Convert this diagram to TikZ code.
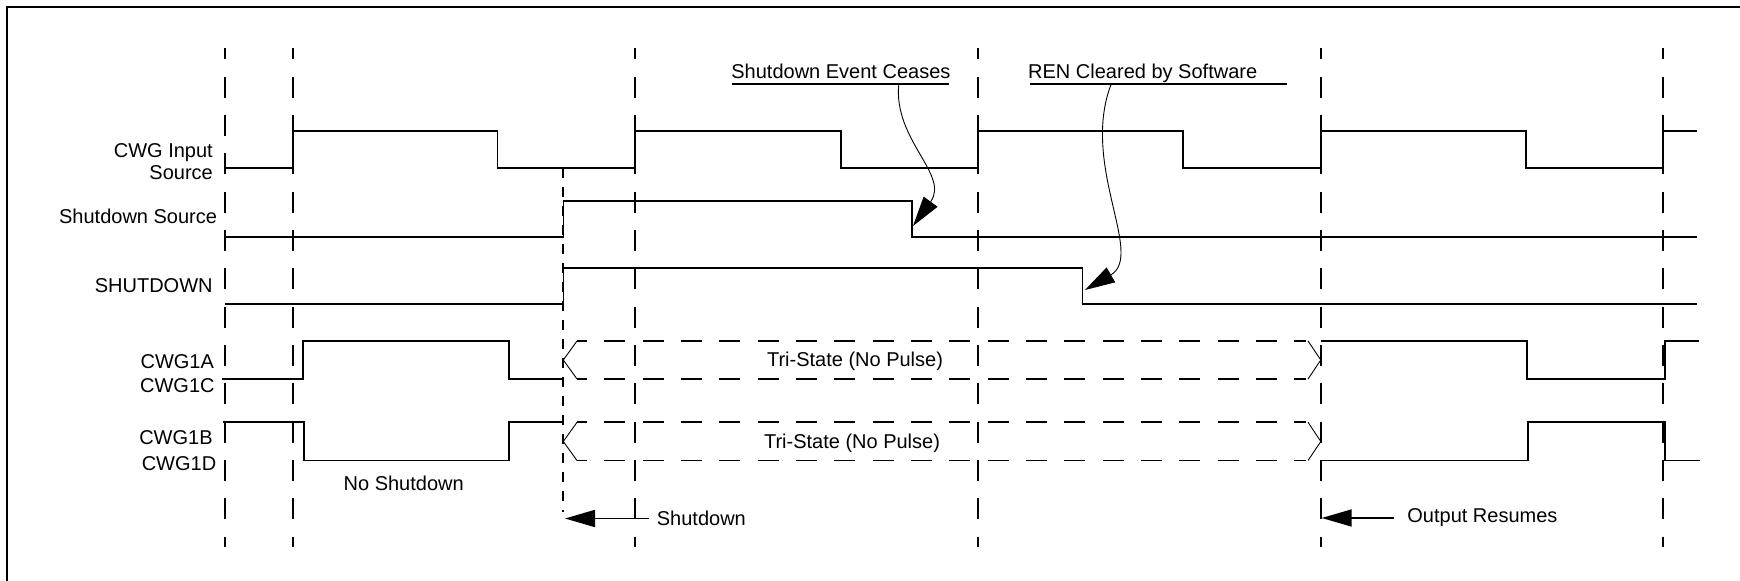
\documentclass[tikz,border=0pt]{standalone}
\usepackage{fontspec}
\setmainfont{Liberation Sans}
\usetikzlibrary{arrows.meta}
\begin{document}
\begin{tikzpicture}[x=0.5pt,y=-0.5pt,
  lbl/.style={inner sep=0pt,font=\fontsize{10pt}{12pt}\selectfont},
  frame/.style={line width=1pt},
  wave/.style={line width=0.9pt,line join=miter},
  grid/.style={line width=0.9pt,dash pattern=on 10.5pt off 8.67pt,dash phase=5pt},
  sgrid/.style={line width=0.9pt,dash pattern=on 5pt off 4.5pt},
  tri/.style={line width=0.9pt,dash pattern=on 10.5pt off 8.67pt,dash phase=5.5pt},
  chev/.style={line width=0.45pt},
  callout/.style={line width=0.45pt,-{Triangle[length=15pt,width=8.5pt]}},
  arr/.style={line width=0.9pt,-{Triangle[length=15pt,width=8.5pt]}},
  uline/.style={line width=0.75pt}]
\useasboundingbox (0,0) rectangle (1740,581);
% frame (only top and left edges visible)
\draw[frame] (6.9,581) -- (6.9,6.7) -- (1740,6.7);
% vertical timing lines
\foreach \x in {224.6,292.8,634.7,978,1320.9,1663}
  \draw[grid] (\x,48.3) -- (\x,546.7);
\draw[sgrid] (563.3,168) -- (563.3,512);
% labels
\node[lbl,anchor=base east] (lin1) at (213.2,157.3) {CWG Input};
\node[lbl,anchor=base east] (lin2) at (213.2,180) {Source};
\node[lbl,anchor=base east] (lsds) at (217.4,224) {Shutdown Source};
\node[lbl,anchor=base east] (lshd) at (213,292.3) {SHUTDOWN};
\node[lbl,anchor=base east] (la) at (214.3,368.3) {CWG1A};
\node[lbl,anchor=base east] (lc) at (215,392.3) {CWG1C};
\node[lbl,anchor=base east] (lb) at (213,445) {CWG1B};
\node[lbl,anchor=base east] (ld) at (216.6,471) {CWG1D};
\node[lbl,anchor=base] (nosd) at (403.7,491) {No Shutdown};
% waveforms
\draw[wave] (225,167.7) -- (292.8,167.7) -- (292.8,130.7) -- (497.5,130.7) -- (497.5,167.7)
  -- (634.7,167.7) -- (634.7,130.7) -- (841,130.7) -- (841,167.7) -- (978,167.7) -- (978,130.7)
  -- (1183,130.7) -- (1183,167.7) -- (1321,167.7) -- (1321,130.7) -- (1526,130.7) -- (1526,167.7)
  -- (1663,167.7) -- (1663,130.7) -- (1697,130.7);
\draw[wave] (225,237) -- (563.5,237) -- (563.5,201) -- (911.8,201) -- (911.8,237) -- (1697,237);
\draw[wave] (225,304.3) -- (563.5,304.3) -- (563.5,268.3) -- (1082.5,268.3) -- (1082.5,304.3) -- (1697,304.3);
\draw[wave] (222,379) -- (303,379) -- (303,341) -- (509,341) -- (509,379) -- (563.3,379);
\draw[wave] (1321,341) -- (1527,341) -- (1527,379) -- (1665,379) -- (1665,341) -- (1699,341);
\draw[wave] (223,422.3) -- (304,422.3) -- (304,460.5) -- (509,460.5) -- (509,422.3) -- (563.3,422.3);
\draw[wave] (1321,460.5) -- (1528,460.5) -- (1528,422.3) -- (1665,422.3) -- (1665,460.5) -- (1700,460.5);
% tri-state regions
\draw[tri] (577,341) -- (1306,341);
\draw[tri] (577,379) -- (1306,379);
\draw[chev] (577,341) -- (563.3,360) -- (577,379);
\draw[chev] (1308,341) -- (1320.8,360) -- (1308,379);
\draw[tri] (577,422.3) -- (1306,422.3);
\draw[tri] (577,460.5) -- (1306,460.5);
\draw[chev] (577,422.3) -- (563.3,441.5) -- (577,460.5);
\draw[chev] (1308,422.3) -- (1320.8,441.5) -- (1308,460.5);
\node[lbl,anchor=base] (tsa) at (855,366.7) {Tri-State (No Pulse)};
\node[lbl,anchor=base] (tsb) at (852,449) {Tri-State (No Pulse)};
% callouts
\node[lbl,anchor=base west] (sec) at (731,78.3) {Shutdown Event Ceases};
\draw[uline] (732,84) -- (948.5,84);
\node[lbl,anchor=base west] (ren) at (1027.8,78.3) {REN Cleared by Software};
\draw[uline] (1029.7,84) -- (1287,84);
\coordinate (c1s) at (898.8,84);
\coordinate (c1e) at (913,226);
\draw[callout] (c1s) .. controls (893,140) and (950,175) .. (c1e);
\coordinate (c2s) at (1111.2,84);
\coordinate (c2e) at (1085,290);
\draw[callout] (c2s) .. controls (1080,165) and (1145,255) .. (c2e);
% bottom arrows
\node[lbl,anchor=base west] (sdl) at (656.5,526) {Shutdown};
\coordinate (sdA) at (649,518.5);
\coordinate (sdT) at (565,518.5);
\draw[arr] (sdA) -- (sdT);
\node[lbl,anchor=base west] (orl) at (1407,523) {Output Resumes};
\coordinate (orA) at (1393.8,518);
\coordinate (orT) at (1321.7,518);
\draw[arr] (orA) -- (orT);
\end{tikzpicture}
\end{document}
